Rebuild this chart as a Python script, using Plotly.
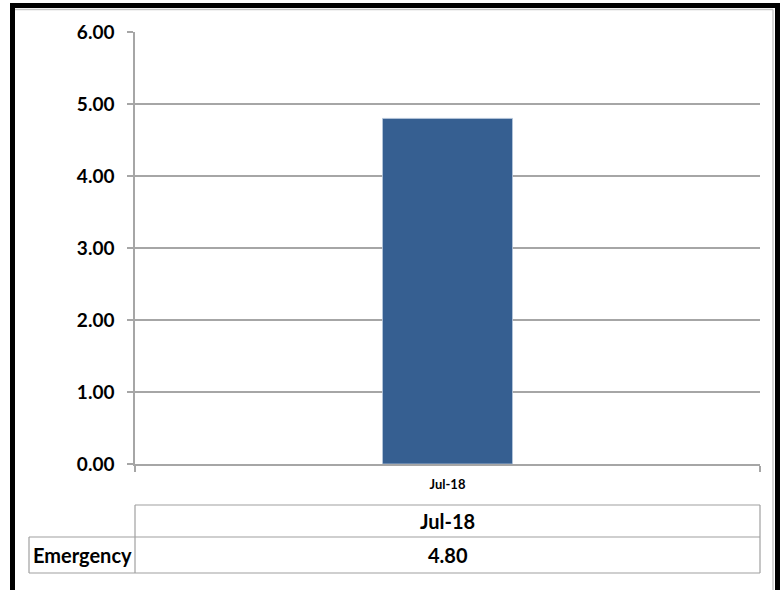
import plotly.graph_objects as go

# ---- data ----
categories = ["Jul-18"]
emergency = [4.80]
series_name = "Emergency"
y_ticks = [0, 1, 2, 3, 4, 5, 6]
y_tick_labels = [f"{v:.2f}" for v in y_ticks]

# ---- layout geometry (pixels) ----
W, H = 784, 590
L, R, T, B = 135, 760, 32, 464


def px(x):
    return (x - L) / (R - L)


def py(y):
    return (B - y) / (B - T)


FONT = "Lato, Roboto, Liberation Sans, Arial, sans-serif"
GRID = "#a6a6a6"
BORDER = "#a0a0a0"
BAR = "#365f91"

fig = go.Figure()
fig.add_trace(go.Bar(
    x=categories, y=emergency, name=series_name,
    marker=dict(color=BAR, line=dict(color="#b8c8dc", width=0.8)),
    width=0.208, showlegend=False, hoverinfo="x+y",
))

fig.update_layout(
    width=W, height=H,
    margin=dict(l=L, r=W - R, t=T, b=H - B),
    paper_bgcolor="white", plot_bgcolor="white",
    font=dict(family=FONT, color="black"),
    xaxis=dict(
        type="category", range=[-0.5, 0.5],
        showline=True, linecolor=GRID, linewidth=1.5,
        ticks="outside", tickson="boundaries", ticklen=6, tickcolor=GRID, tickwidth=1.5,
        ticklabelstandoff=8,
        tickfont=dict(family=FONT, size=13, color="black", weight="bold"),
        showgrid=False, fixedrange=True,
    ),
    yaxis=dict(
        range=[0, 6], tickvals=y_ticks, ticktext=y_tick_labels,
        showgrid=True, gridcolor=GRID, gridwidth=1.5,
        showline=True, linecolor=GRID, linewidth=1.5,
        ticks="outside", ticklen=6, tickcolor=GRID, tickwidth=1.5,
        ticklabelstandoff=9,
        tickfont=dict(family=FONT, size=19, color="black", weight="bold"),
        zeroline=False, fixedrange=True,
    ),
)

shapes = []
# outer black frame
shapes.append(dict(type="rect", xref="paper", yref="paper",
                   x0=px(12.5), x1=px(777.5), y0=py(5.5), y1=py(620),
                   line=dict(color="black", width=5), fillcolor="rgba(0,0,0,0)", layer="above"))
# inner grey frame lines
shapes.append(dict(type="line", xref="paper", yref="paper",
                   x0=px(15), x1=px(773), y0=py(9.5), y1=py(9.5),
                   line=dict(color="#c8c8c8", width=1.5)))
shapes.append(dict(type="line", xref="paper", yref="paper",
                   x0=px(773), x1=px(773), y0=py(9.5), y1=py(620),
                   line=dict(color="#c8c8c8", width=1.5)))

# data table
hdr_top, row_top, row_bot = 505, 537, 573
lab_left = 29
tbl_lines = [
    (L, hdr_top, R, hdr_top),
    (L, hdr_top, L, row_bot),
    (R, hdr_top, R, row_bot),
    (lab_left, row_top, R, row_top),
    (lab_left, row_bot, R, row_bot),
    (lab_left, row_top, lab_left, row_bot),
]
for x0, y0, x1, y1 in tbl_lines:
    shapes.append(dict(type="line", xref="paper", yref="paper",
                       x0=px(x0), x1=px(x1), y0=py(y0), y1=py(y1),
                       line=dict(color=BORDER, width=1.2)))
fig.update_layout(shapes=shapes)

annotations = []
tfont = dict(family=FONT, size=20, color="black", weight="bold")
for i, c in enumerate(categories):
    annotations.append(dict(xref="paper", yref="paper", x=px((L + R) / 2), y=py((hdr_top + row_top) / 2),
                            text=c, showarrow=False, font=tfont, xanchor="center", yanchor="middle"))
    annotations.append(dict(xref="paper", yref="paper", x=px((L + R) / 2), y=py((row_top + row_bot) / 2),
                            text=f"{emergency[i]:.2f}", showarrow=False, font=tfont,
                            xanchor="center", yanchor="middle"))
annotations.append(dict(xref="paper", yref="paper", x=px((lab_left + L) / 2), y=py((row_top + row_bot) / 2),
                        text=series_name, showarrow=False, font=tfont, xanchor="center", yanchor="middle"))
fig.update_layout(annotations=annotations)

fig.write_html("out.html", config={"displayModeBar": False},
               post_script="document.body.style.margin='0px';document.body.style.overflow='hidden';")
